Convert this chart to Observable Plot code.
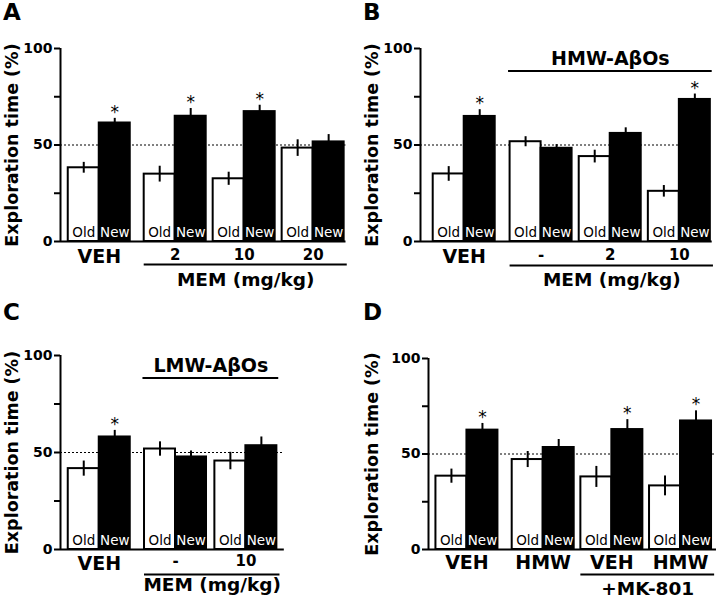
<!DOCTYPE html>
<html><head><meta charset="utf-8">
<script src="https://cdn.jsdelivr.net/npm/d3@7"></script>
<script src="https://cdn.jsdelivr.net/npm/@observablehq/plot@0.6"></script>
<style>
body{margin:0;background:#fff;}
#wrap{position:relative;width:720px;height:600px;font-family:"DejaVu Sans",sans-serif;background:#fff;}
.panel{position:absolute;width:360px;height:300px;}
.letter{position:absolute;left:3px;top:1px;font-size:23px;font-weight:bold;line-height:23px;z-index:2;}
</style></head><body><div id="wrap"></div>
<script>
// ---------- Data ----------
const yTitle = "Exploration time (%)";
const yTicks = [0, 25, 50, 75, 100];
const chance = 50;

// Panel A
const groupsA = ["VEH", "2", "10", "20"];
const oldA = [38.2, 34.9, 32.5, 48.4];
const oldErrA = [2.8, 4.1, 3.4, 4.3];
const newA = [61.4, 64.9, 67.3, 51.6];
const newErrA = [2.4, 4.0, 3.3, 3.8];
const sigA = [true, true, true, false];
const bottomLabelA = "MEM (mg/kg)";

// Panel B
const groupsB = ["VEH", "-", "2", "10"];
const oldB = [35.0, 51.7, 44.0, 26.0];
const oldErrB = [3.8, 2.6, 3.3, 3.0];
const newB = [64.8, 48.3, 56.0, 73.6];
const newErrB = [3.5, 1.9, 2.9, 2.8];
const sigB = [true, false, false, true];
const bottomLabelB = "MEM (mg/kg)";
const topLabelB = "HMW-A\u03B2Os";

// Panel C
const groupsC = ["VEH", "-", "10"];
const oldC = [41.7, 51.8, 45.6];
const oldErrC = [3.9, 3.7, 4.5];
const newC = [58.0, 47.7, 53.5];
const newErrC = [3.4, 3.1, 4.5];
const sigC = [true, false, false];
const bottomLabelC = "MEM (mg/kg)";
const topLabelC = "LMW-A\u03B2Os";

// Panel D
const groupsD = ["VEH", "HMW", "VEH", "HMW"];
const oldD = [38.4, 47.1, 38.0, 33.3];
const oldErrD = [3.7, 4.2, 5.5, 5.2];
const newD = [62.5, 53.4, 62.8, 67.3];
const newErrD = [3.5, 4.2, 5.2, 5.3];
const sigD = [true, false, true, true];
const bottomLabelD = "+MK-801";

const kinds = ["Old", "New"];

// ---------- Panel builder ----------
function makePanel(p) {
  const n = p.groups.length;
  const starts = p.groups.map((g, i) => p.lead + 2 * i + (i > 0 ? p.bigGap + (i - 1) * p.smallGap : 0));
  const xmax = starts[n - 1] + 2 + p.trail;
  const unit = 31;
  const marginRight = 360 - p.marginLeft - xmax * unit;
  const bars = [];
  p.groups.forEach((g, i) => {
    bars.push({kind: kinds[0], x1: starts[i], x2: starts[i] + 1, v: p.old[i], e: p.oldErr[i], sig: false});
    bars.push({kind: kinds[1], x1: starts[i] + 1, x2: starts[i] + 2, v: p.neu[i], e: p.newErr[i], sig: p.sig[i]});
  });
  const oldBars = bars.filter(d => d.kind === "Old");
  const newBars = bars.filter(d => d.kind === "New");
  const cx = d => (d.x1 + d.x2) / 2;
  const groupRows = p.groups.map((g, i) => ({label: g, xc: starts[i] + 1, big: p.big[i]}));
  const bold = "bold";

  const marks = [
    Plot.ruleY([chance], {stroke: "black", strokeWidth: 1, strokeDasharray: "2,2"}),
    Plot.rectY(oldBars, {x1: "x1", x2: "x2", y1: 0, y2: "v", fill: "white", stroke: "black", strokeWidth: 2}),
    Plot.rectY(newBars, {x1: "x1", x2: "x2", y1: 0, y2: "v", fill: "black", stroke: "black", strokeWidth: 2}),
    Plot.ruleX(bars, {x: cx, y1: d => d.v - d.e, y2: d => d.v + d.e, stroke: "black", strokeWidth: 2}),
    Plot.text(bars.filter(d => d.sig), {x: cx, y: d => d.v + d.e, text: () => "*", dy: -6, fontSize: 17}),
    Plot.text(oldBars, {x: cx, y: 0, text: "kind", fill: "black", dy: -9, fontSize: 13.5}),
    Plot.text(newBars, {x: cx, y: 0, text: "kind", fill: "white", dy: -9, fontSize: 13.5}),
    Plot.ruleX([0], {y1: 0, y2: 100, stroke: "black", strokeWidth: 2}),
    Plot.ruleY([0], {x1: 0, x2: xmax, stroke: "black", strokeWidth: 2}),
    Plot.axisY({ticks: yTicks, tickFormat: d => (d % 50 === 0 ? d : ""), tickSize: 6, tickPadding: 2,
      fontSize: 14, fontWeight: bold, strokeWidth: 2, label: null}),
    Plot.text([yTitle], {frameAnchor: "left", textAnchor: "middle", rotate: -90, dx: -(p.marginLeft - 12), text: d => d,
      fontSize: 17.5, fontWeight: bold}),
    Plot.text(groupRows.filter(d => d.big), {x: "xc", y: 0, text: "label", dy: p.labelDy, fontSize: 19, fontWeight: bold}),
    Plot.text(groupRows.filter(d => !d.big), {x: "xc", y: 0, text: "label", dy: p.labelDy - 2, fontSize: 15, fontWeight: bold})
  ];
  if (p.bottomBracket) {
    const x1 = starts[p.bottomBracket.from];
    const x2 = starts[p.bottomBracket.to] + 2 + 0.1;
    marks.push(Plot.ruleY([0], {x1: x1, x2: x2, dy: p.bracketDy, stroke: "black", strokeWidth: 2}));
    marks.push(Plot.text([p.bottomBracket.label], {x: (x1 + x2) / 2, y: 0, text: d => d, dy: p.bracketTextDy,
      fontSize: 18.5, fontWeight: bold}));
  }
  if (p.topBracket) {
    const x1 = starts[p.topBracket.from] - 0.05;
    const x2 = starts[p.topBracket.to] + 2 + 0.06;
    marks.push(Plot.ruleY([100], {x1: x1, x2: x2, dy: 22.5, stroke: "black", strokeWidth: 2}));
    marks.push(Plot.text([p.topBracket.label], {x: (x1 + x2) / 2, y: 100, text: d => d, dy: 10,
      fontSize: 19, fontWeight: bold}));
  }
  return Plot.plot({
    width: 360,
    height: 300,
    marginLeft: p.marginLeft,
    marginRight: marginRight,
    marginTop: p.marginTop,
    marginBottom: p.marginBottom,
    x: {domain: [0, xmax], axis: null},
    y: {domain: [0, 100]},
    style: {fontFamily: "DejaVu Sans", background: "white", overflow: "visible", color: "black"},
    marks
  });
}

const panels = [
  {letter: "A", px: 0, py: 0, groups: groupsA, old: oldA, oldErr: oldErrA, neu: newA, newErr: newErrA, sig: sigA,
    big: [true, false, false, false], marginLeft: 60, marginTop: 48, marginBottom: 59,
    lead: 0.25, bigGap: 0.45, smallGap: 0.225, trail: 0.06, labelDy: 15.5, bracketDy: 23, bracketTextDy: 39,
    bottomBracket: {from: 1, to: 3, label: bottomLabelA}},
  {letter: "B", px: 360, py: 0, groups: groupsB, old: oldB, oldErr: oldErrB, neu: newB, newErr: newErrB, sig: sigB,
    big: [true, false, false, false], marginLeft: 60, marginTop: 48, marginBottom: 59,
    lead: 0.41, bigGap: 0.48, smallGap: 0.23, trail: 0.06, labelDy: 15.5, bracketDy: 24, bracketTextDy: 39,
    bottomBracket: {from: 1, to: 3, label: bottomLabelB}, topBracket: {from: 1, to: 3, label: topLabelB}},
  {letter: "C", px: 0, py: 300, groups: groupsC, old: oldC, oldErr: oldErrC, neu: newC, newErr: newErrC, sig: sigC,
    big: [true, false, false], marginLeft: 60, marginTop: 55, marginBottom: 51,
    lead: 0.25, bigGap: 0.46, smallGap: 0.27, trail: 0.24, labelDy: 14, bracketDy: 25, bracketTextDy: 36,
    bottomBracket: {from: 1, to: 2, label: bottomLabelC}, topBracket: {from: 1, to: 2, label: topLabelC}},
  {letter: "D", px: 360, py: 300, groups: groupsD, old: oldD, oldErr: oldErrD, neu: newD, newErr: newErrD, sig: sigD,
    big: [true, true, true, true], marginLeft: 68, marginTop: 58, marginBottom: 51,
    lead: 0.24, bigGap: 0.46, smallGap: 0.215, trail: 0.16, labelDy: 13.5, bracketDy: 25, bracketTextDy: 40,
    bottomBracket: {from: 2, to: 3, label: bottomLabelD}}
];

const wrap = document.getElementById("wrap");
for (const p of panels) {
  const div = document.createElement("div");
  div.className = "panel";
  div.style.left = p.px + "px";
  div.style.top = p.py + "px";
  div.appendChild(makePanel(p));
  const letter = document.createElement("div");
  letter.className = "letter";
  letter.textContent = p.letter;
  div.appendChild(letter);
  wrap.appendChild(div);
}
</script>
</body></html>
